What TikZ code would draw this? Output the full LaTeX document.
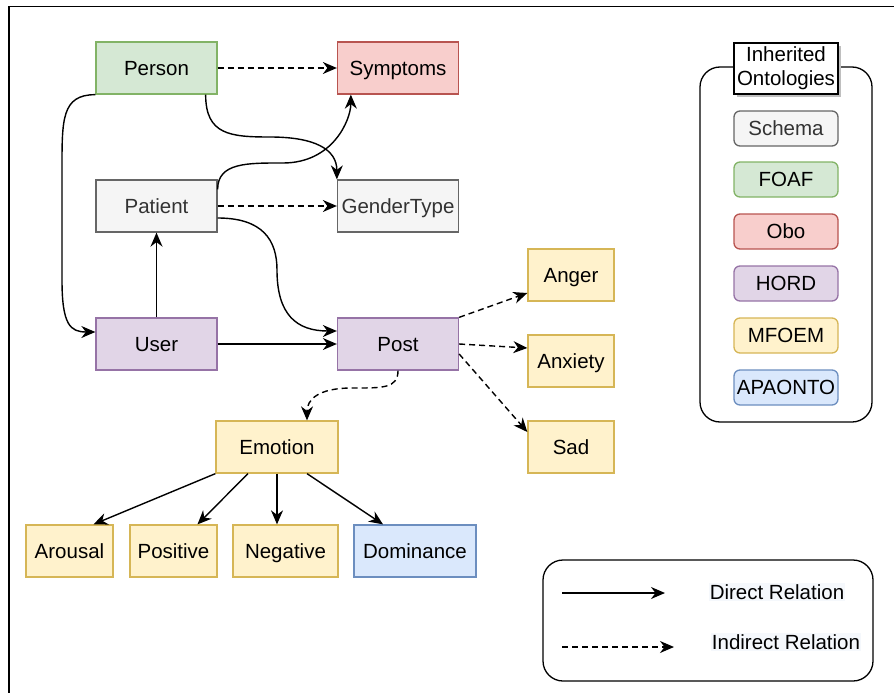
\documentclass[tikz,border=0pt]{standalone}
\usepackage{fontspec}
\setmainfont{Liberation Sans}
\usetikzlibrary{arrows.meta,calc,shadows}
\definecolor{gfill}{HTML}{D5E8D4}\definecolor{gline}{HTML}{82B366}
\definecolor{rfill}{HTML}{F8CECC}\definecolor{rline}{HTML}{B85450}
\definecolor{sfill}{HTML}{F5F5F5}\definecolor{sline}{HTML}{666666}\definecolor{stext}{HTML}{333333}
\definecolor{pfill}{HTML}{E1D5E7}\definecolor{pline}{HTML}{9673A6}
\definecolor{yfill}{HTML}{FFF2CC}\definecolor{yline}{HTML}{D6B656}
\definecolor{bfill}{HTML}{DAE8FC}\definecolor{bline}{HTML}{6C8EBF}
\definecolor{lblbg}{HTML}{F5F8FC}
\tikzset{
  box/.style={draw, line width=1.3pt, minimum width=121pt, minimum height=52pt, inner sep=0pt,
    font=\fontsize{20.5}{24}\selectfont, text=black, text height=14.7pt, text depth=0pt},
  cgreen/.style={fill=gfill, draw=gline},
  cred/.style={fill=rfill, draw=rline},
  cgrey/.style={fill=sfill, draw=sline, text=stext},
  cpurple/.style={fill=pfill, draw=pline},
  cyellow/.style={fill=yfill, draw=yline},
  cblue/.style={fill=bfill, draw=bline},
  item/.style={box, rounded corners=6pt, minimum width=104pt, minimum height=35pt},
  rel/.style={line width=1.4pt, -{Stealth[length=14pt,width=12pt,inset=4.5pt]}},
  irel/.style={rel, dash pattern=on 6pt off 4pt},
  panel/.style={draw, line width=1.3pt, rounded corners=20pt, inner sep=0pt},
  lbl/.style={font=\fontsize{20.5}{24}\selectfont, fill=lblbg, inner sep=1pt}
}
\begin{document}
\begin{tikzpicture}[x=1pt,y=-1pt]
\useasboundingbox (0,0) rectangle (894,693);
\draw[line width=1.5pt] (894,6.5) -- (9,6.5) -- (9,693);

% main nodes
\node[box,cgreen] (person) at (156.5,68) {Person};
\node[box,cred] (symptoms) at (398,68) {Symptoms};
\node[box,cgrey] (patient) at (156.5,206) {Patient};
\node[box,cgrey] (gender) at (398,206) {GenderType};
\node[box,cpurple] (user) at (156.5,344) {User};
\node[box,cpurple] (post) at (398,344) {Post};
\node[box,cyellow,minimum width=86pt] (anger) at (571,275) {Anger};
\node[box,cyellow,minimum width=86pt] (anxiety) at (571,361) {Anxiety};
\node[box,cyellow,minimum width=86pt] (sad) at (571,447) {Sad};
\node[box,cyellow,minimum width=122pt] (emotion) at (277,447) {Emotion};
\node[box,cyellow,minimum width=87pt] (arousal) at (69.5,551) {Arousal};
\node[box,cyellow,minimum width=87pt] (positive) at (173.5,551) {Positive};
\node[box,cyellow,minimum width=105pt] (negative) at (285.5,551) {Negative};
\node[box,cblue,minimum width=122pt] (dominance) at (415,551) {Dominance};

% connectors
\draw[irel] (person) -- (symptoms);
\draw[rel] (person.south west) .. controls +(-34,0) and +(0,-50) .. (62,170) -- (62,280)
   .. controls +(0,45) and +(-25,0) .. ($(user.west)+(0,-12)$);
\draw[rel] ($(person.south east)+(-12,0)$) .. controls +(0,40) and +(-40,0) .. (270,137)
   .. controls +(45,0) and +(0,-30) .. (gender.north west);
\draw[rel] ($(patient.north east)+(0,10)$) .. controls +(0,-27) and +(-35,0) .. (283,163)
   .. controls +(50,0) and +(0,25) .. ($(symptoms.south west)+(14,0)$);
\draw[irel] (patient) -- (gender);
\draw[rel] ($(patient.east)+(0,12)$) .. controls +(45,0) and +(0,-30) .. (277,270)
   .. controls +(0,45) and +(-40,0) .. ($(post.west)+(0,-13)$);
\draw[rel] (user) -- (patient);
\draw[rel] (user) -- (post);
\draw[irel] (post.north east) -- ($(anger.west)+(0,18)$);
\draw[irel] (post.east) -- ($(anxiety.west)+(0,-13)$);
\draw[irel] ($(post.east)+(0,10)$) -- ($(sad.west)+(0,-15)$);
\draw[irel] (post.south) .. controls +(0,18) and +(30,0) .. (352,388)
   .. controls +(-35,0) and +(0,-20) .. ($(emotion.north)+(30,0)$);
\draw[rel] (emotion.south west) -- ($(arousal.north)+(24,0)$);
\draw[rel] ($(emotion.south)+(-29,0)$) -- ($(positive.north)+(24,0)$);
\draw[rel] (emotion.south) -- (emotion.south |- negative.north);
\draw[rel] ($(emotion.south)+(30,0)$) -- ($(dominance.north)+(-32,0)$);

% ontology legend
\node[panel, minimum width=172pt, minimum height=355pt] (ontpanel) at (786,244.5) {};
\node[draw=black, fill=white, line width=1.2pt, minimum width=104pt, minimum height=51pt, inner sep=0pt,
  align=center, font=\fontsize{20.5}{24}\selectfont,
  drop shadow={shadow xshift=3pt, shadow yshift=-3pt, fill=black!25, opacity=1}] (ontitle) at (786,68.5) {Inherited\\Ontologies};
\node[item,cgrey] (schema) at (786,128.5) {Schema};
\node[item,cgreen] (foaf) at (786,179.5) {FOAF};
\node[item,cred] (obo) at (786,231.5) {Obo};
\node[item,cpurple] (hord) at (786,283.5) {HORD};
\node[item,cyellow] (mfoem) at (786,335.5) {MFOEM};
\node[item,cblue] (apaonto) at (786,387.5) {APAONTO};

% relation legend
\node[panel, minimum width=330pt, minimum height=121pt] (relpanel) at (708,620.5) {};
\coordinate (d1) at (562,593); \coordinate (d2) at (665,593);
\coordinate (i1) at (562,647); \coordinate (i2) at (674,647);
\draw[rel] (d1) -- (d2);
\draw[irel] (i1) -- (i2);
\node[lbl] (dlbl) at (777,592) {Direct Relation};
\node[lbl] (ilbl) at (786,642) {Indirect Relation};
\end{tikzpicture}
\end{document}
